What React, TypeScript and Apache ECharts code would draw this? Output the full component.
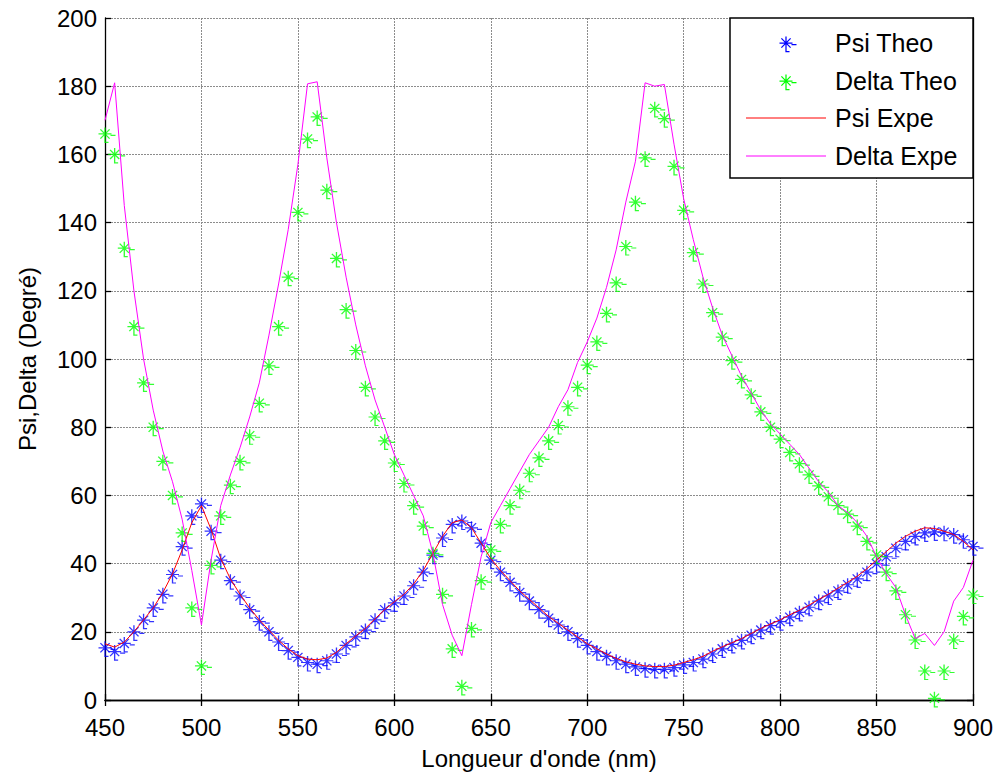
import React, { useEffect, useRef } from "react";
import * as echarts from "echarts";

const wavelengths = [
  450, 455, 460, 465, 470, 475, 480, 485, 490, 495, 500, 505, 510, 515, 520, 525, 530, 535, 540, 545,
  550, 555, 560, 565, 570, 575, 580, 585, 590, 595, 600, 605, 610, 615, 620, 625, 630, 635, 640, 645,
  650, 655, 660, 665, 670, 675, 680, 685, 690, 695, 700, 705, 710, 715, 720, 725, 730, 735, 740, 745,
  750, 755, 760, 765, 770, 775, 780, 785, 790, 795, 800, 805, 810, 815, 820, 825, 830, 835, 840, 845,
  850, 855, 860, 865, 870, 875, 880, 885, 890, 895, 900,
];

const psiTheo = [
  15.3, 14.2, 16.6, 20.0, 23.4, 27.0, 31.0, 36.8, 45.0, 54.0, 57.5, 49.5, 41.0, 35.0, 30.5, 26.5, 23.0, 20.0, 17.0, 14.5,
  12.5, 11.0, 10.5, 11.5, 13.5, 16.0, 18.5, 20.5, 23.5, 26.5, 28.5, 30.5, 33.5, 37.5, 42.5, 47.5, 51.5, 52.5, 50.5, 46.0,
  41.0, 37.5, 34.5, 31.5, 29.0, 26.5, 24.0, 22.0, 20.0, 18.0, 16.0, 14.2, 12.8, 11.5, 10.5, 9.7, 9.2, 9.0, 9.0, 9.5,
  10.3, 11.0, 12.0, 13.5, 15.0, 16.3, 17.5, 19.0, 20.5, 21.8, 23.0, 24.3, 25.7, 27.2, 29.0, 30.5, 32.0, 33.8, 35.5, 37.5,
  40.0, 42.0, 44.5, 46.5, 48.0, 49.0, 49.3, 49.2, 48.5, 47.0, 45.0,
];

const deltaTheo = [
  166, 160, 132.5, 109.5, 93, 80, 70, 60, 49, 27, 10, 39.5, 54, 63, 70, 77.5, 87, 98, 109.5, 124,
  143, 164.5, 171, 149.5, 129.5, 114.5, 102.5, 91.7, 83, 76, 69.5, 63.5, 57, 51, 43, 31, 15, 4, 21, 35,
  44, 51.5, 57, 61.5, 66.5, 71, 76, 80.5, 86, 91.7, 98.2, 105, 113.4, 122.3, 133, 146, 159, 173.5, 170.5, 156.5,
  143.6, 131.2, 122, 113.6, 106.4, 99.5, 94, 89.5, 84.5, 80, 76.5, 72.6, 69.3, 66, 62.8, 59.6, 57, 54.5, 51, 46.5,
  42.5, 37.5, 32, 25, 17.6, 8.5, 0.5, 8.5, 17.6, 24.5, 30.8,
];

const psiExpe = [
  16.5, 15.5, 17.0, 20.0, 23.5, 27.0, 31.5, 37.0, 44.0, 52.0, 57.0, 50.0, 41.5, 35.5, 31.0, 27.0, 23.5, 20.5, 17.5, 15.0,
  13.0, 12.0, 11.8, 12.3, 14.0, 16.5, 18.8, 21.0, 23.8, 26.5, 28.8, 31.0, 34.0, 38.0, 43.0, 48.0, 52.0, 52.8, 50.5, 46.0,
  41.5, 38.0, 35.0, 32.0, 29.5, 27.0, 24.5, 22.5, 20.5, 18.5, 16.5, 15.0, 13.5, 12.2, 11.2, 10.5, 10.0, 9.8, 9.8, 10.2,
  11.0, 11.8, 12.8, 14.3, 15.6, 16.8, 18.0, 19.5, 21.0, 22.3, 23.5, 25.0, 26.3, 27.8, 29.5, 31.0, 32.8, 34.5, 36.3, 38.5,
  41.0, 43.5, 46.0, 48.0, 49.5, 50.5, 50.3, 49.5, 48.5, 46.5, 44.0,
];

const deltaExpe = [
  170, 181, 145, 120, 100, 85, 73, 64, 53, 38, 22, 41, 57, 66, 74, 83, 93, 107, 122, 138,
  157, 180.7, 181.3, 159, 140, 124, 110, 98, 88, 80, 72, 66, 60, 54, 43, 28, 19, 13, 28, 42,
  52, 57, 62, 67, 72, 76, 80, 86, 91, 99, 105, 112, 121, 132, 146, 158, 181, 180, 180.5, 163,
  147, 135, 124, 115, 107, 101, 95, 90, 85, 81, 78, 75, 72, 68, 64, 61, 57, 55, 52, 48,
  42, 37, 33, 25, 18, 19.5, 16, 20, 29, 33, 41,
];

const xTicks = { min: 450, max: 900, interval: 50 };
const yTicks = { min: 0, max: 200, interval: 20 };

const legendNames = ["Psi Theo", "Delta Theo", "Psi Expe", "Delta Expe"];

const FONT = "'Liberation Sans', Arial, Helvetica, sans-serif";
const STAR_D =
  "M0 6.5 L13 6.5 M6.5 0 L6.5 13 M1.9 1.9 L11.1 11.1 M11.1 1.9 L1.9 11.1 M12 8 L17 8 M6.5 13 L6.5 15 L10 15";

export default function App() {
  const ref = useRef<HTMLDivElement>(null);

  useEffect(() => {
    if (!ref.current) return;
    try {
      echarts.graphic.registerShape("starMark", echarts.graphic.extendPath(STAR_D, {}) as any);
    } catch (e) {}
    const chart = echarts.init(ref.current, null, { renderer: "svg" });

    const gridLine = { show: true, lineStyle: { color: "#8c8c8c", type: [2, 1] as any, width: 1 } };
    const axisCommon = {
      type: "value" as const,
      axisLine: { show: true, lineStyle: { color: "#000", width: 1.3 } },
      axisTick: { show: true, inside: true, length: 6, lineStyle: { color: "#000", width: 1.3 } },
    };

    const starSymbol = "path://" + STAR_D;
    const scat = (name: string, vals: number[], color: string) => ({
      name,
      type: "scatter" as const,
      data: wavelengths.map((w, i) => [w, vals[i]]),
      symbol: starSymbol,
      symbolSize: [17, 15],
      symbolOffset: [2, 1],
      clip: false,
      itemStyle: { color: "none", borderColor: color, borderWidth: 1.25 },
      emphasis: { disabled: true },
      z: 2,
    });
    const line = (name: string, vals: number[], color: string) => ({
      name,
      type: "line" as const,
      data: wavelengths.map((w, i) => [w, vals[i]]),
      symbol: "none",
      showSymbol: false,
      lineStyle: { color, width: 1 },
      itemStyle: { color },
      z: 3,
    });

    const legendX = 730;
    const legendY = 18;
    const rows = [43, 81, 118, 156];
    const legendGraphics: any[] = [
      {
        type: "rect",
        shape: { x: legendX, y: legendY, width: 243, height: 160 },
        style: { fill: "#fff", stroke: "#000", lineWidth: 1.5 },
        z: 100,
      },
      {
        type: "starMark",
        x: 786 - 6.5,
        y: rows[0] - 6.5,
        style: { fill: "none", stroke: "#0000ff", lineWidth: 1.25 },
        z: 101,
      },
      {
        type: "starMark",
        x: 786 - 6.5,
        y: rows[1] - 6.5,
        style: { fill: "none", stroke: "#00ff00", lineWidth: 1.25 },
        z: 101,
      },
      {
        type: "line",
        shape: { x1: 746, y1: rows[2], x2: 826, y2: rows[2] },
        style: { stroke: "#ff0000", lineWidth: 1 },
        z: 101,
      },
      {
        type: "line",
        shape: { x1: 746, y1: rows[3], x2: 826, y2: rows[3] },
        style: { stroke: "#ff00ff", lineWidth: 1 },
        z: 101,
      },
      ...legendNames.map((n, i) => ({
        type: "text",
        x: 835,
        y: rows[i],
        style: {
          text: n,
          fill: "#000",
          font: `25px ${FONT}`,
          textVerticalAlign: "middle",
          verticalAlign: "middle",
        },
        z: 101,
      })),
    ];

    chart.setOption({
      animation: false,
      backgroundColor: "#fff",
      textStyle: { fontFamily: FONT },
      grid: { left: 105, right: 28, top: 18, bottom: 73, containLabel: false },
      xAxis: [
        {
          ...axisCommon,
          ...xTicks,
          position: "bottom",
          name: "Longueur d'onde (nm)",
          nameLocation: "middle",
          nameGap: 46,
          nameTextStyle: { fontSize: 24, color: "#000", fontFamily: FONT },
          axisLabel: { fontSize: 24, color: "#000", margin: 15, fontFamily: FONT },
          splitLine: gridLine,
        },
        {
          ...axisCommon,
          ...xTicks,
          position: "top",
          axisLabel: { show: false },
          splitLine: { show: false },
        },
      ],
      yAxis: [
        {
          ...axisCommon,
          ...yTicks,
          position: "left",
          name: "Psi,Delta (Degré)",
          nameLocation: "middle",
          nameGap: 66,
          nameTextStyle: { fontSize: 24, color: "#000", fontFamily: FONT },
          axisLabel: { fontSize: 24, color: "#000", margin: 8, fontFamily: FONT },
          splitLine: gridLine,
        },
        {
          ...axisCommon,
          ...yTicks,
          position: "right",
          axisLabel: { show: false },
          splitLine: { show: false },
        },
      ],
      series: [
        scat(legendNames[0], psiTheo, "#0000ff"),
        scat(legendNames[1], deltaTheo, "#00ff00"),
        line(legendNames[2], psiExpe, "#ff0000"),
        line(legendNames[3], deltaExpe, "#ff00ff"),
      ],
      graphic: legendGraphics,
    });

    return () => chart.dispose();
  }, []);

  return (
    <div
      ref={ref}
      style={{ position: "absolute", left: 0, top: 0, width: 1001, height: 775, background: "#fff" }}
    />
  );
}
